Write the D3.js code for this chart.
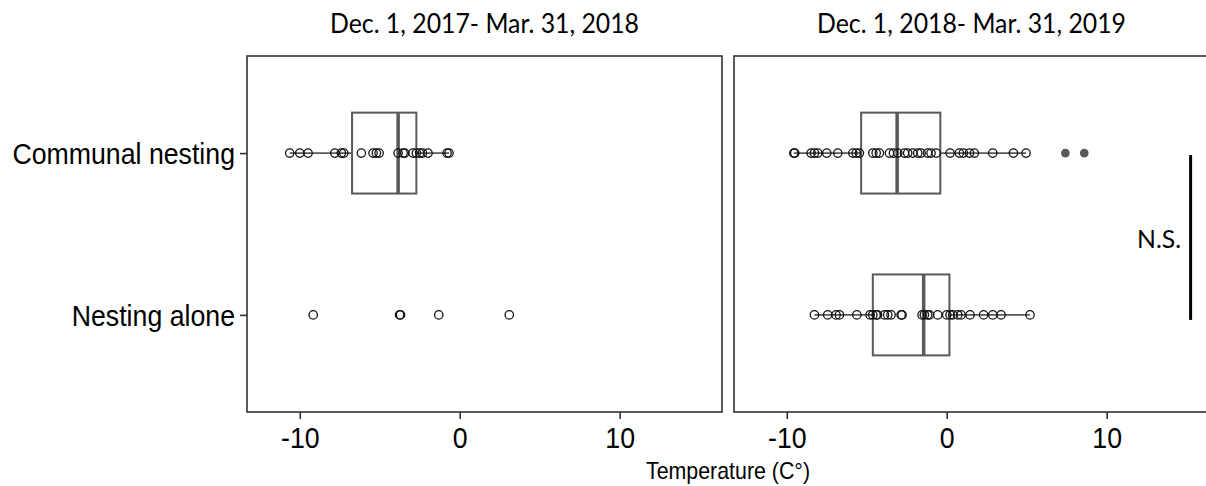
<!DOCTYPE html>
<html>
<head>
<meta charset="utf-8">
<script src="https://cdn.jsdelivr.net/npm/d3@7"></script>
<style>
  body { margin: 0; background: #fff; }
</style>
</head>
<body>
<svg id="chart"></svg>
<script>
// ----------------------------------------
//  Data
// ----------------------------------------

var groups = ['Communal nesting', 'Nesting alone'];
var periods = ['Dec. 1, 2017- Mar. 31, 2018', 'Dec. 1, 2018- Mar. 31, 2019'];
var xTicks = [-10, 0, 10];

var temps2018Communal = [-10.63, -10.0, -9.48, -7.81, -7.4, -7.25, -6.15, -5.42, -5.21, -5.04,
                         -3.85, -3.54, -3.44, -2.92, -2.71, -2.5, -2.33, -1.98, -0.79, -0.67];
var temps2018Alone = [-9.16, -3.76, -3.7, -1.31, 3.1];

var temps2019Communal = [-9.56, -9.5, -8.48, -8.27, -8.06, -7.5, -6.81, -5.87, -5.66, -5.46,
                         -4.62, -4.41, -4.21, -3.58, -3.33, -3.06, -2.64, -2.44, -2.12, -1.81,
                         -1.6, -1.19, -0.98, -0.66, 0.21, 0.79, 1.04, 1.42, 1.73, 2.88, 4.17, 4.96];
var temps2019Alone = [-8.27, -7.44, -6.92, -6.71, -5.62, -4.79, -4.62, -4.41, -4.33, -3.89,
                      -3.69, -3.48, -2.85, -2.79, -1.54, -1.4, -1.19, -1.08, -0.56, 0.0,
                      0.21, 0.38, 0.69, 0.9, 1.46, 2.31, 2.88, 3.4, 5.21];

// box stats: [whisker low, q1, median, q3, whisker high]
var box2018Communal = [-10.63, -6.73, -3.85, -2.71, -0.67];
var box2019Communal = [-9.56, -5.35, -3.1, -0.4, 4.96];
var box2019Alone = [-8.27, -4.62, -1.44, 0.17, 5.21];
var outliers2019Communal = [7.42, 8.6];

var xDomain = [-13.3, 16.4];
var sigLabel = 'N.S.';
var xTitle = 'Temperature (C\u00b0)';

// ----------------------------------------
// Sizing the Chart
// ----------------------------------------

var width = 1206, height = 486;
var plotTop = 56, plotBottom = 412, plotLeft = 247;
var panelW = 475, gap = 12;

var svg = d3.select('#chart')
    .attr('width', width)
    .attr('height', height)
    .style('display', 'block');

var x = d3.scaleLinear().domain(xDomain).range([0, panelW]);
var y = d3.scalePoint().domain(groups).range([plotTop, plotBottom]).padding(0.6);
var boxH = y.step() * 0.5;

var panels = [
  { title: periods[0], data: [temps2018Communal, temps2018Alone], boxes: [box2018Communal, null], outliers: [[], []] },
  { title: periods[1], data: [temps2019Communal, temps2019Alone], boxes: [box2019Communal, box2019Alone], outliers: [outliers2019Communal, []] }
];

// squeeze text horizontally like the original image
function squeeze(sel, k) {
  sel.each(function() {
    var w = this.getComputedTextLength();
    d3.select(this).attr('textLength', w * k).attr('lengthAdjust', 'spacingAndGlyphs');
  });
}
function fitTo(sel, w) {
  sel.attr('textLength', w).attr('lengthAdjust', 'spacingAndGlyphs');
}

panels.forEach(function(p, pi) {
  var ox = plotLeft + pi * (panelW + gap);
  var g = svg.append('g').attr('transform', 'translate(' + ox + ',0)');

  g.append('rect')
    .attr('x', 0).attr('y', plotTop)
    .attr('width', panelW).attr('height', plotBottom - plotTop)
    .attr('fill', '#fff');

  // boxes and whiskers
  groups.forEach(function(grp, gi) {
    var b = p.boxes[gi];
    var cy = y(grp);
    if (b) {
      g.append('line')
        .attr('x1', x(b[0])).attr('x2', x(b[1]))
        .attr('y1', cy).attr('y2', cy)
        .attr('stroke', '#595959').attr('stroke-width', 1.6);
      g.append('line')
        .attr('x1', x(b[3])).attr('x2', x(b[4]))
        .attr('y1', cy).attr('y2', cy)
        .attr('stroke', '#595959').attr('stroke-width', 1.6);
      g.append('rect')
        .attr('x', x(b[1])).attr('y', cy - boxH / 2)
        .attr('width', x(b[3]) - x(b[1])).attr('height', boxH)
        .attr('fill', 'none')
        .attr('stroke', '#595959').attr('stroke-width', 2);
      g.append('line')
        .attr('x1', x(b[2])).attr('x2', x(b[2]))
        .attr('y1', cy - boxH / 2).attr('y2', cy + boxH / 2)
        .attr('stroke', '#595959').attr('stroke-width', 3.5);
    }
    g.selectAll('circle.out' + gi)
      .data(p.outliers[gi])
      .enter().append('circle')
      .attr('class', 'out' + gi)
      .attr('cx', function(d) { return x(d); })
      .attr('cy', cy)
      .attr('r', 4.4)
      .attr('fill', '#595959');

    g.selectAll('circle.pt' + gi)
      .data(p.data[gi])
      .enter().append('circle')
      .attr('class', 'pt' + gi)
      .attr('cx', function(d) { return x(d); })
      .attr('cy', cy)
      .attr('r', 4.2)
      .attr('fill', 'none')
      .attr('stroke', '#111')
      .attr('stroke-width', 1.3);
  });

  // frame
  g.append('rect')
    .attr('x', 0).attr('y', plotTop)
    .attr('width', panelW).attr('height', plotBottom - plotTop)
    .attr('fill', 'none')
    .attr('stroke', '#333').attr('stroke-width', 1.6);

  // x axis
  var xa = g.append('g')
    .attr('transform', 'translate(0,' + plotBottom + ')')
    .call(d3.axisBottom(x).tickValues(xTicks).tickSize(7).tickPadding(7.5)
      .tickFormat(function(d) { return String(d); }));
  xa.select('.domain').remove();
  xa.selectAll('line').attr('stroke', '#333').attr('stroke-width', 1.6);
  xa.selectAll('text')
    .attr('fill', '#000')
    .style('font-family', '"Liberation Sans", Arial, sans-serif')
    .style('font-size', '30px')
    .call(squeeze, 0.89);

  // strip title
  g.append('text')
    .attr('x', panelW / 2).attr('y', 33)
    .attr('text-anchor', 'middle')
    .style('font-family', 'Lato, "Noto Sans", sans-serif')
    .style('font-size', '26px')
    .attr('fill', '#000')
    .text(p.title)
    .call(fitTo, 309);

  // y axis only on the first panel
  if (pi === 0) {
    var ya = g.append('g')
      .call(d3.axisLeft(y).tickSize(7).tickPadding(5));
    ya.select('.domain').remove();
    ya.selectAll('line').attr('stroke', '#333').attr('stroke-width', 1.6);
    ya.selectAll('text')
      .attr('fill', '#000')
      .attr('dy', '0.36em')
      .style('font-family', '"Liberation Sans", Arial, sans-serif')
      .style('font-size', '30px')
      .call(squeeze, 0.89);
  }

  // significance bar on the second panel
  if (pi === 1) {
    g.append('line')
      .attr('x1', x(15.25)).attr('x2', x(15.25))
      .attr('y1', y(groups[0]) + 2).attr('y2', y(groups[1]) + 5)
      .attr('stroke', '#000').attr('stroke-width', 3);
    g.append('text')
      .attr('x', x(14.65)).attr('y', (y(groups[0]) + y(groups[1])) / 2 + 14)
      .attr('text-anchor', 'end')
      .style('font-family', 'Lato, "Noto Sans", sans-serif')
      .style('font-size', '25px')
      .attr('fill', '#000')
      .text(sigLabel)
      .call(fitTo, 44);
  }
});

// x axis title, centred over both panels
svg.append('text')
  .attr('x', plotLeft + (2 * panelW + gap) / 2)
  .attr('y', 479)
  .attr('text-anchor', 'middle')
  .style('font-family', '"Liberation Sans", Arial, sans-serif')
  .style('font-size', '24px')
  .attr('fill', '#000')
  .text(xTitle)
  .call(squeeze, 0.89);
</script>
</body>
</html>
